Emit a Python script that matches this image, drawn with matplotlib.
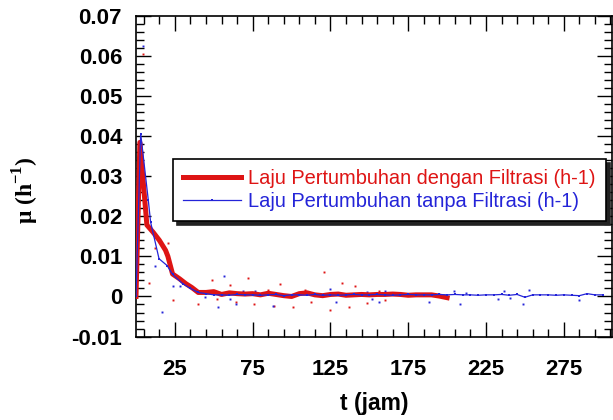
import matplotlib
matplotlib.use("Agg")
import matplotlib.pyplot as plt
from matplotlib.ticker import FixedLocator

plt.rcParams['font.family'] = ['Liberation Sans', 'DejaVu Sans']
plt.rcParams['mathtext.fontset'] = 'custom'
plt.rcParams['mathtext.rm'] = 'Liberation Serif:bold'
plt.rcParams['mathtext.bf'] = 'Liberation Serif:bold'

# growth rate with filtration (smoothed line)
t_filter = [0, 2.5, 7, 11, 15, 19, 20.5, 23.5, 28, 32, 36, 40,
            45, 50, 55, 60, 65, 70, 75, 80, 85, 90, 95, 100, 105, 110,
            115, 120, 125, 130, 135, 140, 145, 150, 155, 160, 165, 170,
            175, 180, 185, 190, 195, 200]
mu_filter = [0, 0.0384, 0.0178, 0.0160, 0.0140, 0.0115, 0.0100, 0.0056,
             0.0044, 0.0032, 0.0022, 0.0010,
             0.0010, 0.0012, 0.0005, 0.0009, 0.0007, 0.0006, 0.0007, 0.0004,
             0.0008, 0.0005, 0.0002, 0.0000, 0.0007, 0.0009, 0.0004, 0.0002,
             0.0005, 0.0006, 0.0003, 0.0004, 0.0005, 0.0004, 0.0005, 0.0005,
             0.0006, 0.0005, 0.0003, 0.0004, 0.0004, 0.0004, 0.0001, -0.0003]

# growth rate without filtration (smoothed line)
t_nofilter = [0, 3, 7.9, 9.4, 14.8, 20, 23.5, 30, 35, 40,
              45, 50, 55, 60, 65, 70, 75, 80, 85, 90, 95, 100, 105, 110,
              115, 120, 125, 130, 135, 140, 145, 150, 155, 160, 165, 170,
              175, 180, 185, 190, 195, 200, 205, 210, 215, 220, 225, 230,
              235, 240, 245, 250, 255, 260, 265, 270, 275, 280, 285, 290,
              295, 300]
mu_nofilter = [0, 0.0406, 0.0240, 0.0185, 0.0094, 0.0077, 0.0055, 0.0032,
               0.0020, 0.0010,
               0.0007, 0.0004, 0.0004, 0.0003, 0.0005, 0.0004, 0.0004, 0.0003,
               0.0004, 0.0005, 0.0002, 0.0004, 0.0004, 0.0003, 0.0005, 0.0003,
               0.0004, 0.0003, 0.0004, 0.0005, 0.0004, 0.0004, 0.0005, 0.0004,
               0.0003, 0.0004, 0.0005, 0.0004, 0.0004, 0.0004, 0.0005, 0.0004,
               0.0005, 0.0004, 0.0004, 0.0003, 0.0004, 0.0004, 0.0005, 0.0003,
               0.0005, -0.0002, 0.0004, 0.0004, 0.0004, 0.0003, 0.0004, 0.0003,
               0.0002, 0.0007, 0.0004, 0.0004]

# raw point values
t_filter_raw = [4.2, 20.3, 12.1, 8.3, 23.9, 48.6, 60.3, 40, 72, 76, 52.2,
                64.6, 85, 92.4, 88.6, 101, 108.5, 112.8, 120.7, 124.5, 132.7,
                140.6, 136.7, 148.7, 156.2, 160.3]
mu_filter_raw = [0.0603, 0.0134, 0.0120, 0.0034, -0.0010, 0.0040, 0.0029,
                 -0.0018, 0.0047, -0.0020, -0.0006, -0.0014, 0.0015, 0.0032,
                 -0.0025, -0.0027, 0.0017, -0.0014, 0.0062, -0.0033, 0.0033,
                 0.0026, -0.0027, -0.0016, 0.0013, -0.0008]

t_nofilter_raw = [4.2, 12.1, 16.4, 23.9, 28.2, 44.3, 56.5, 52.4, 64.2, 60.3,
                  68.9, 76.4, 88.1, 124.5, 128.4, 148.7, 152, 156.2, 160.3,
                  188.3, 204.4, 208.5, 212.3, 232.6, 236.3, 240.6, 248.7,
                  252.5, 284.6]
mu_nofilter_raw = [0.0624, 0.0077, -0.0039, 0.0025, 0.0027, -0.0002, 0.0051,
                   -0.0027, -0.0020, -0.0007, 0.0013, 0.0013, -0.0025, 0.0019,
                   -0.0014, 0.0011, -0.0006, -0.0015, 0.0013, -0.0014, 0.0013,
                   -0.0019, 0.0008, -0.0007, 0.0014, -0.0003, -0.0018, 0.0016,
                   -0.0010]

x_major = [25, 75, 125, 175, 225, 275]
y_ticks = [-0.01, 0, 0.01, 0.02, 0.03, 0.04, 0.05, 0.06, 0.07]
y_tick_labels = ['-0.01', '0', '0.01', '0.02', '0.03', '0.04', '0.05', '0.06', '0.07']

label_filter = 'Laju Pertumbuhan dengan Filtrasi (h-1)'
label_nofilter = 'Laju Pertumbuhan tanpa Filtrasi (h-1)'

RED = '#de1414'
BLUE = '#2424d8'

W, H = 613, 420
fig = plt.figure(figsize=(W / 100, H / 100), dpi=100)
ax = fig.add_axes([136 / W, 1 - 336.6 / H, (612 - 136) / W, (336.6 - 15.5) / H])

# scattered raw points
ax.plot(t_filter_raw, mu_filter_raw, 's', color=RED, ms=1.4, mew=0, zorder=2)
ax.plot(t_nofilter_raw, mu_nofilter_raw, 's', color=BLUE, ms=1.4, mew=0, zorder=2)

# smoothed lines
ax.plot(t_filter, mu_filter, '-', color=RED, lw=3.6, solid_joinstyle='round',
        label=label_filter, zorder=3)
ax.plot(t_nofilter, mu_nofilter, '-s', color=BLUE, lw=0.9, ms=1.6, mew=0,
        label=label_nofilter, zorder=4)

ax.set_xlim(0, 306)
ax.set_ylim(-0.01, 0.07)

ax.set_xticks(x_major)
ax.set_xticklabels([str(v) for v in x_major])
ax.xaxis.set_minor_locator(FixedLocator(list(range(5, 306, 10))))
ax.set_yticks(y_ticks)
ax.set_yticklabels(y_tick_labels)
ax.yaxis.set_minor_locator(FixedLocator([i * 0.002 - 0.01 for i in range(41)]))

ax.tick_params(which='both', direction='in', top=True, right=True, width=1)
ax.tick_params(which='major', length=11)
ax.tick_params(which='minor', length=6)
ax.tick_params(axis='x', which='major', pad=16, labelsize=16)
ax.tick_params(axis='y', which='major', pad=10, labelsize=16)
for lab in ax.get_xticklabels() + ax.get_yticklabels():
    lab.set_fontweight('bold')

for sp in ax.spines.values():
    sp.set_linewidth(1.2)

ax.set_xlabel('t (jam)', fontsize=16.5, fontweight='bold', labelpad=9)
fig.text(26 / W, 1 - 190 / H, r'μ (h$^{-1}$)', rotation=90, ha='center',
         va='center', fontsize=17, fontweight='bold', family='Liberation Serif')

leg = ax.legend(loc='upper left', bbox_to_anchor=(173 / W, 1 - 159 / H),
                bbox_transform=fig.transFigure, fontsize=14.4, frameon=True,
                fancybox=False, borderaxespad=0, borderpad=0.5,
                handlelength=2.9, handletextpad=0.35, labelspacing=0.2,
                numpoints=1, markerscale=1.0,
                shadow={'ox': 3, 'oy': -3, 'color': '#222222', 'alpha': 1})
leg.get_frame().set_edgecolor('black')
leg.get_frame().set_linewidth(1.2)
leg.get_frame().set_alpha(1)
for txt, c in zip(leg.get_texts(), [RED, BLUE]):
    txt.set_color(c)

fig.savefig('out.png', dpi=100)
